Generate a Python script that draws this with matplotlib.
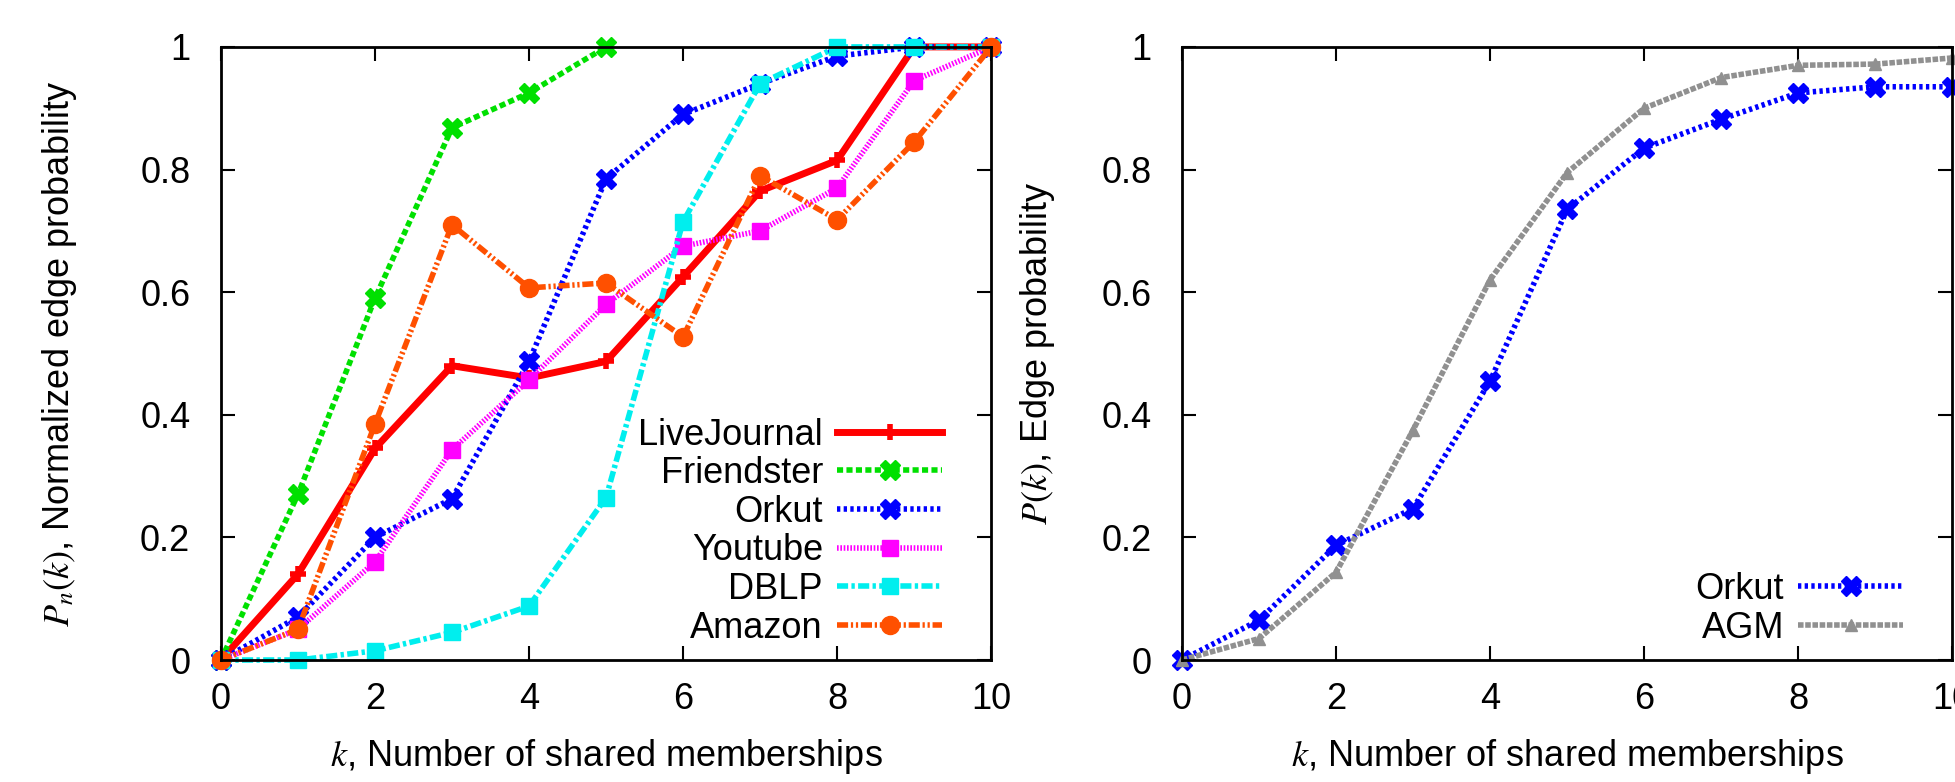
import matplotlib
matplotlib.use("Agg")
import matplotlib.pyplot as plt

plt.rcParams['font.family'] = ['Liberation Sans Narrow', 'Liberation Sans', 'DejaVu Sans']
plt.rcParams['mathtext.fontset'] = 'stix'

k = [0, 1, 2, 3, 4, 5, 6, 7, 8, 9, 10]
k_friendster = [0, 1, 2, 3, 4, 5]

livejournal = [0, 0.14, 0.345, 0.48, 0.46, 0.487, 0.625, 0.765, 0.815, 1.0, 1.0]
friendster = [0, 0.27, 0.59, 0.868, 0.925, 1.0]
orkut = [0, 0.07, 0.2, 0.263, 0.487, 0.785, 0.89, 0.94, 0.985, 1.0, 1.0]
youtube = [0, 0.05, 0.16, 0.343, 0.457, 0.58, 0.675, 0.70, 0.77, 0.945, 1.0]
dblp = [0, 0.0, 0.015, 0.045, 0.088, 0.265, 0.715, 0.94, 1.0, 1.0, 1.0]
amazon = [0, 0.05, 0.385, 0.71, 0.607, 0.615, 0.527, 0.79, 0.718, 0.845, 1.0]

orkut_p = [0, 0.065, 0.187, 0.247, 0.455, 0.735, 0.835, 0.882, 0.925, 0.935, 0.935]
agm_p = [0, 0.035, 0.143, 0.375, 0.62, 0.795, 0.9, 0.95, 0.97, 0.972, 0.982]

FS = 26

fig = plt.figure(figsize=(19.55, 7.82), dpi=100)
ax1 = fig.add_axes([0.113, 0.156, 0.394, 0.784])
ax2 = fig.add_axes([0.6046, 0.156, 0.394, 0.784])

ax1.plot(k, livejournal, color='#ff0000', lw=5, linestyle='-', marker='+',
         ms=12, mew=4, label='LiveJournal')
ax1.plot(k_friendster, friendster, color='#00e000', lw=4, linestyle=(0, (1.1, 0.6)),
         marker='X', ms=14, label='Friendster')
ax1.plot(k, orkut, color='#0000ff', lw=4, linestyle=(0, (0.6, 0.6)),
         marker='X', ms=15, label='Orkut')
ax1.plot(k, youtube, color='#ff00ff', lw=4, linestyle=(0, (0.3, 0.3)),
         marker='s', ms=12, label='Youtube')
ax1.plot(k, dblp, color='#00eeee', lw=4, linestyle=(0, (2, 0.6, 0.6, 0.6)),
         marker='s', ms=11, label='DBLP')
ax1.plot(k, amazon, color='#ff5000', lw=4, linestyle=(0, (2, 0.5, 0.4, 0.5, 0.4, 0.5)),
         marker='o', ms=13, label='Amazon')

ax2.plot(k, orkut_p, color='#0000ff', lw=4, linestyle=(0, (0.6, 0.6)),
         marker='X', ms=15, label='Orkut')
ax2.plot(k, agm_p, color='#909090', lw=4, linestyle=(0, (1, 0.3)),
         marker='^', ms=8, label='AGM')

for ax in (ax1, ax2):
    ax.set_xlim(0, 10)
    ax.set_ylim(0, 1)
    ax.set_xticks([0, 2, 4, 6, 8, 10])
    ax.set_yticks([0, 0.2, 0.4, 0.6, 0.8, 1])
    ax.set_yticklabels(['0', '0.2', '0.4', '0.6', '0.8', '1'])
    ax.tick_params(direction='in', length=10, width=1.5, top=True, right=True,
                   labelsize=FS)
    ax.tick_params(axis='y', pad=22)
    ax.tick_params(axis='x', pad=16)
    for s in ax.spines.values():
        s.set_linewidth(2)
    ax.set_xlabel(r'$k$, Number of shared memberships', fontsize=FS, labelpad=14)
    for line in ax.lines:
        line.set_clip_on(False)
    ax.legend(loc='lower right', bbox_to_anchor=(0.955, 0.0), frameon=False,
              markerfirst=False, fontsize=FS, handlelength=2.9, labelspacing=0.1,
              handletextpad=0.4, borderaxespad=0.0)

ax1.set_ylabel(r'$P_n(k)$, Normalized edge probability', fontsize=FS, labelpad=44)
ax2.set_ylabel(r'$P(k)$, Edge probability', fontsize=FS, labelpad=32)

fig.savefig('out.png', dpi=100)
